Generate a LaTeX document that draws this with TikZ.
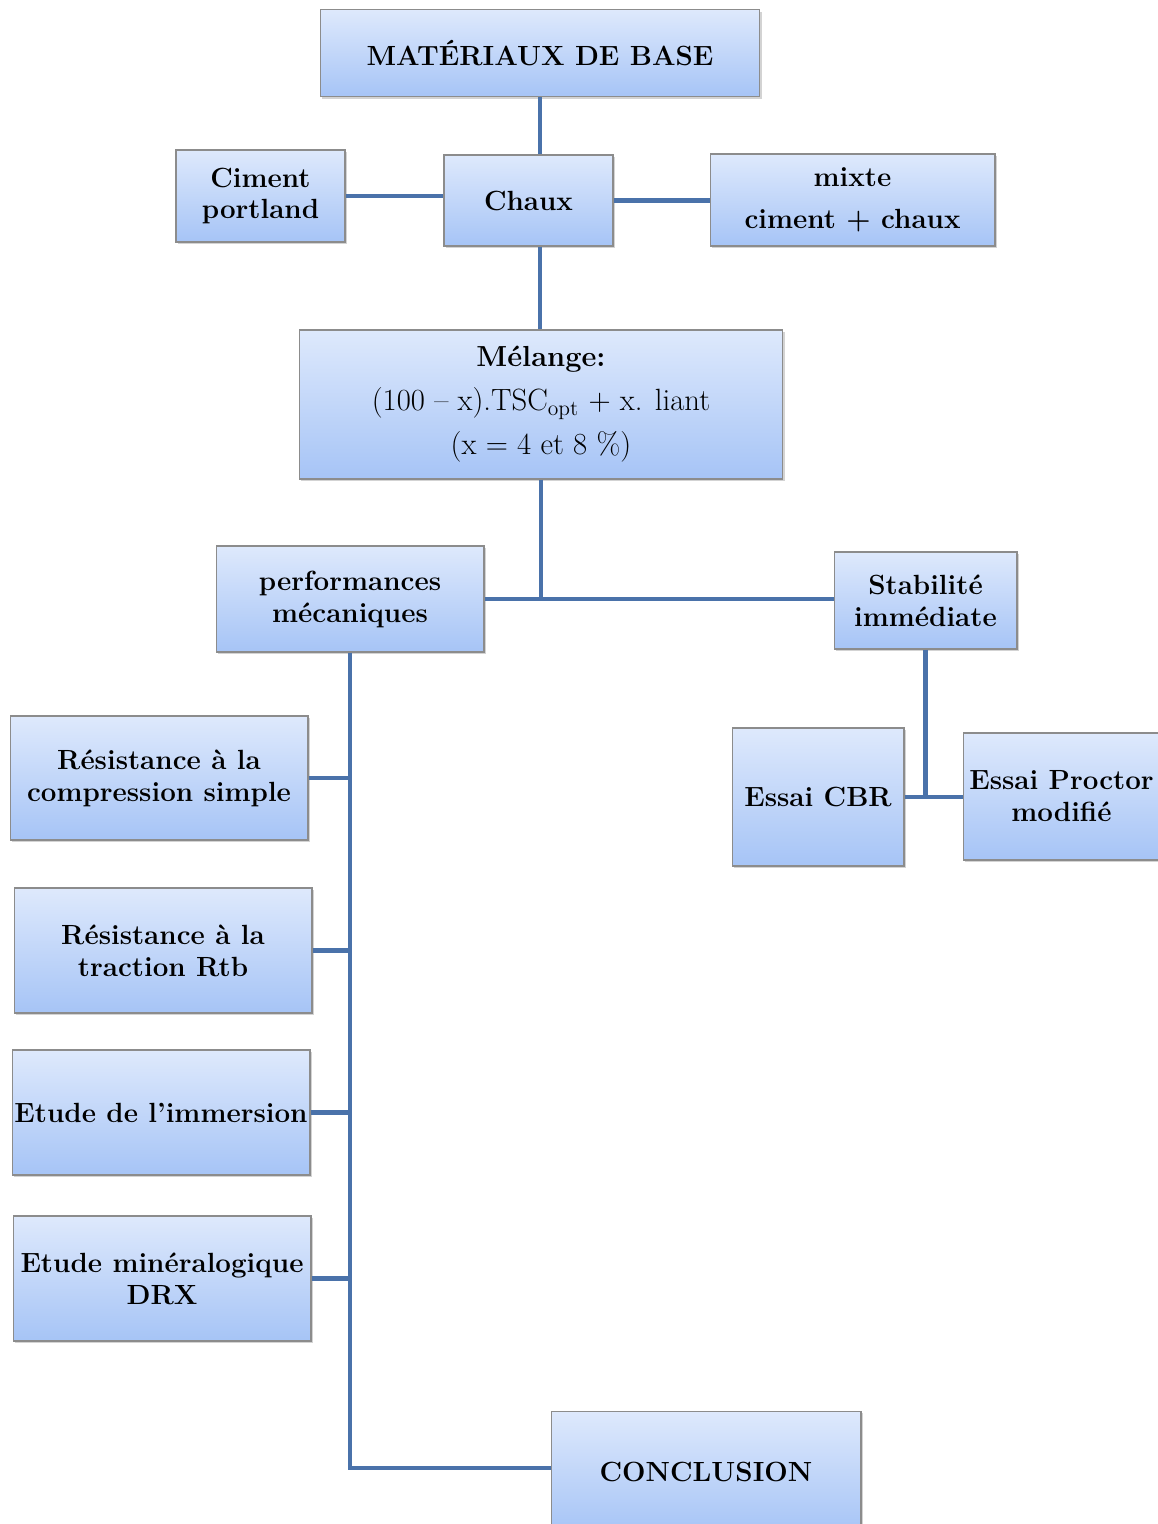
\documentclass[tikz,border=0pt]{standalone}
\usepackage{tikz}
\usetikzlibrary{shadows}

\definecolor{linkblue}{RGB}{74,114,170}
\definecolor{boxtop}{RGB}{222,233,252}
\definecolor{boxbottom}{RGB}{166,196,246}
\definecolor{boxline}{RGB}{140,140,140}

\begin{document}
\begin{tikzpicture}[x=0.02cm, y=-0.02cm]
\tikzset{box/.style = {rectangle, draw=boxline, line width=0.6pt,
                       top color=boxtop, bottom color=boxbottom,
                       drop shadow={shadow xshift=1.2pt, shadow yshift=-1.2pt, opacity=0.35},
                       align=center, inner sep=0pt,
                       font=\fontsize{15.8}{18.2}\selectfont\bfseries},
         link/.style = {draw=linkblue, line width=2.3pt}}
\useasboundingbox (0,0) rectangle (1158,1524);
            % vertices
	\node[box, minimum width=8.8cm, minimum height=1.74cm] (mat) at (540,53) {MATÉRIAUX DE BASE};
	\node[box, minimum width=3.38cm, minimum height=1.84cm] (ciment) at (260.5,196) {Ciment\\portland};
	\node[box, minimum width=3.38cm, minimum height=1.82cm] (chaux) at (528.5,200.5) {Chaux};
	\node[box, minimum width=5.7cm, minimum height=1.84cm] (mixte) at (852.5,200) {mixte\\[6pt]ciment + chaux};
	\node[box, minimum width=9.68cm, minimum height=2.98cm, font=\fontsize{17.5}{25}\selectfont] (melange) at (541,404.5)
		{\textbf{\fontsize{16.5}{25}\selectfont Mélange:}\\(100 -- x).TSC\textsubscript{opt} + x. liant\\(x = 4 et 8 \%)};
	\node[box, minimum width=5.36cm, minimum height=2.12cm] (perf) at (350,599) {performances\\mécaniques};
	\node[box, minimum width=3.66cm, minimum height=1.94cm] (stab) at (925.5,600.5) {Stabilité\\immédiate};
	\node[box, minimum width=3.44cm, minimum height=2.76cm] (cbr) at (818,797) {Essai CBR};
	\node[box, minimum width=3.94cm, minimum height=2.54cm] (proctor) at (1061.5,796.5) {Essai Proctor\\modifié};
	\node[box, minimum width=5.96cm, minimum height=2.48cm] (rc) at (159,778) {Résistance à la\\compression simple};
	\node[box, minimum width=5.96cm, minimum height=2.5cm] (rtb) at (163,950.5) {Résistance à la\\traction Rtb};
	\node[box, minimum width=5.96cm, minimum height=2.5cm] (imm) at (161,1112.5) {Etude de l'immersion};
	\node[box, minimum width=5.96cm, minimum height=2.5cm] (drx) at (162,1278.5) {Etude minéralogique\\DRX};
	\node[box, minimum width=6.2cm, minimum height=2.44cm] (concl) at (706,1472) {CONCLUSION};
            % junctions
	\coordinate (j1) at (541,599);
	\coordinate (j2) at (925.5,797);
	\coordinate (j3) at (350,1468);
            %edges
	\draw[link] (mat.south -| 540,0) -- (chaux.north -| 540,0);
	\draw[link] (ciment.east) -- (ciment.east -| chaux.west);
	\draw[link] (chaux.east) -- (chaux.east -| mixte.west);
	\draw[link] (chaux.south -| 540,0) -- (melange.north -| 540,0);
	\draw[link] (melange.south -| j1) -- (j1);
	\draw[link] (perf.east |- j1) -- (stab.west |- j1);
	\draw[link] (stab.south -| j2) -- (j2);
	\draw[link] (cbr.east |- j2) -- (proctor.west |- j2);
	\draw[link] (perf.south) -- (j3) -- (concl.west |- j3);
	\foreach \n in {rc, rtb, imm, drx}
		\draw[link] (\n.east) -- (\n.east -| j3);
\end{tikzpicture}
\end{document}
